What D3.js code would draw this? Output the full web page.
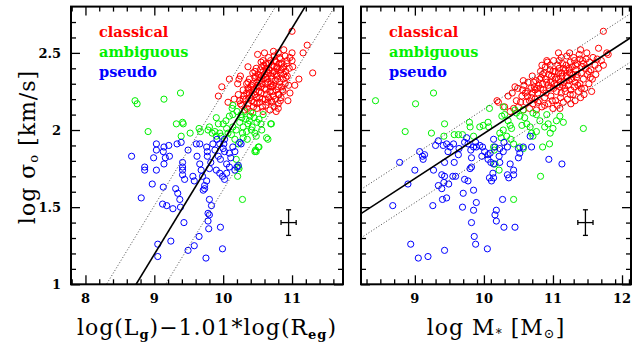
<!DOCTYPE html>
<html>
<head>
<meta charset="utf-8">
<script src="https://cdn.jsdelivr.net/npm/d3@7/dist/d3.min.js"></script>
<style>
  body { margin: 0; background: #fff; }
  svg { display: block; }
</style>
</head>
<body>
<svg id="chart" width="632" height="343"></svg>
<script>
// ---- categories and legend ----
const categories = ["classical", "ambiguous", "pseudo"];
const categoryColors = ["#ff0000", "#00f000", "#0000ff"];

// ---- tick labels ----
const yTickValues = [1, 1.5, 2, 2.5];
const xTickValuesLeft = [8, 9, 10, 11];
const xTickValuesRight = [9, 10, 11, 12];

// ---- fitted relations: y = y0 + slope * (x - x0), dotted at +/- scatter ----
const fitLeft = { x0: 8.735, y0: 1.0, slope: 0.733, scatter: 0.315 };
const fitRight = { x0: 8.22, y0: 1.458, slope: 0.292, scatter: 0.157 };

// ---- typical error bars [x, y, dx, dy] ----
const errLeft = [10.95, 1.40, 0.11, 0.083];
const errRight = [11.47, 1.40, 0.11, 0.083];

// ---- left panel: log(Lg) - 1.01 log(Reg) vs log sigma0 ----
const classicalLeft = [
  [10.31,2.13],[10.40,2.12],[10.49,2.14],[10.58,2.12],[10.68,2.13],[10.74,2.15],
  [10.27,2.16],[10.36,2.17],[10.44,2.15],[10.53,2.18],[10.62,2.16],[10.71,2.18],[10.80,2.17],
  [10.24,2.19],[10.33,2.20],[10.41,2.19],[10.48,2.21],[10.57,2.20],[10.66,2.21],[10.76,2.20],[10.84,2.21],
  [10.22,2.23],[10.30,2.22],[10.38,2.24],[10.46,2.23],[10.55,2.24],[10.63,2.23],[10.72,2.25],[10.81,2.23],[10.87,2.25],
  [10.29,2.26],[10.36,2.27],[10.44,2.26],[10.51,2.28],[10.60,2.27],[10.69,2.28],[10.77,2.26],[10.85,2.28],
  [10.34,2.30],[10.41,2.29],[10.49,2.31],[10.56,2.30],[10.65,2.31],[10.73,2.29],[10.82,2.31],[10.90,2.30],
  [10.38,2.33],[10.46,2.34],[10.53,2.32],[10.61,2.34],[10.70,2.33],[10.78,2.35],[10.87,2.33],[10.93,2.35],
  [10.43,2.37],[10.51,2.36],[10.58,2.38],[10.66,2.37],[10.74,2.38],[10.83,2.37],[10.91,2.38],
  [10.48,2.40],[10.56,2.41],[10.63,2.40],[10.71,2.42],[10.79,2.40],[10.88,2.41],[10.96,2.40],
  [10.55,2.44],[10.62,2.43],[10.69,2.45],[10.77,2.44],[10.85,2.43],[10.93,2.45],
  [10.66,2.47],[10.74,2.48],[10.82,2.47],[10.90,2.48],[10.97,2.47],
  [10.73,2.51],[10.80,2.50],[10.88,2.52],
  [10.35,2.14],[10.45,2.18],[10.52,2.25],[10.58,2.33],[10.67,2.39],[10.75,2.45],[10.29,2.20],
  [10.61,2.20],[10.68,2.25],[10.76,2.32],[10.84,2.39],[10.40,2.28],[10.47,2.35],[10.54,2.39],
  [10.62,2.30],[10.73,2.22],[10.80,2.28],[10.88,2.36],[10.92,2.43],[10.57,2.15],[10.65,2.18],
  [10.42,2.22],[10.50,2.29],[10.60,2.36],[10.70,2.35],[10.78,2.41],
  [10.39,2.21],[10.47,2.25],[10.55,2.28],[10.64,2.33],[10.72,2.37],[10.81,2.43],[10.34,2.24],
  [10.43,2.30],[10.52,2.34],[10.59,2.42],[10.69,2.30],[10.77,2.36],[10.86,2.40],[10.53,2.21],
  [10.62,2.26],[10.71,2.28],[10.79,2.33],[10.86,2.26],[10.58,2.45],[10.66,2.43],[10.46,2.38],
  [10.37,2.26],[10.49,2.17],[10.56,2.35],[10.63,2.38],[10.74,2.41],[10.83,2.46],[10.91,2.34],
  [10.80,2.23],[10.70,2.19],
  [11.00,2.64],[11.22,2.55],[11.16,2.50],[11.00,2.50],[11.00,2.45],[11.01,2.41],[11.30,2.37],
  [11.04,2.29],[10.94,2.19],[10.83,2.19],[10.80,2.14],[10.50,2.49],[10.60,2.50],[10.36,2.41],
  [10.23,2.33],[10.25,2.35],[10.36,2.31],[9.98,2.28],[9.93,2.22],[10.07,2.18],[10.77,2.12],
  [10.95,2.29],[11.10,2.33],[10.97,2.24],[10.09,2.33],[10.21,2.30],[10.25,2.17],[10.16,2.20]
];
const ambiguousLeft = [
  [8.72,2.19],[8.75,2.17],[9.14,2.20],[9.38,2.24],[8.91,1.99],[9.32,2.04],[9.41,2.05],[9.39,1.96],
  [9.52,1.98],[9.65,2.01],[9.67,1.99],[9.78,2.00],[9.80,2.02],[9.90,2.08],[9.93,2.04],[9.88,1.99],
  [9.90,1.96],[9.95,1.98],[9.97,1.96],[10.00,2.04],[10.05,2.01],[10.09,2.09],[10.14,2.10],[10.07,1.98],
  [10.12,1.97],[10.14,2.02],[10.19,2.00],[10.24,2.05],[10.26,2.10],[10.29,2.02],[10.34,1.99],[10.17,1.94],
  [10.22,1.91],[10.29,1.95],[10.36,2.04],[10.39,2.09],[10.43,2.11],[10.41,2.00],[10.46,1.98],[10.48,1.96],
  [10.49,2.05],[10.51,1.89],[10.47,1.87],[10.46,1.86],[10.55,2.04],[10.58,2.10],[10.63,1.95],[10.70,2.04],
  [10.13,2.14],[10.14,2.16],[10.19,1.81],[10.22,1.76],[10.23,1.75],[10.21,1.70],[10.28,1.55],[10.48,1.86],
  [10.52,1.89],[10.65,1.94],[10.69,2.04],[9.42,2.04],[10.33,2.07],[10.38,2.06],[10.27,2.08],[10.31,2.12],
  [10.20,2.12],[10.45,2.08],[10.52,2.07],[10.35,1.94],[10.42,2.02],[10.04,2.06],[9.84,1.98],[10.28,1.98],
  [10.56,2.00]
];
const pseudoLeft = [
  [8.67,1.83],[8.86,1.76],[8.86,1.74],[8.81,1.56],[8.97,1.65],[9.03,1.91],[9.03,1.87],[9.03,1.74],
  [8.99,1.82],[9.14,1.89],[9.13,1.86],[9.14,1.78],[9.16,1.82],[9.21,1.90],[9.22,1.83],[9.13,1.63],
  [9.12,1.52],[9.18,1.51],[9.27,1.49],[9.05,1.26],[9.05,1.18],[9.24,1.28],[9.31,1.62],[9.34,1.59],
  [9.37,1.55],[9.38,1.50],[9.41,1.79],[9.41,1.76],[9.41,1.74],[9.33,1.91],[9.39,1.92],[9.43,1.40],
  [9.49,1.22],[9.41,1.71],[9.44,1.68],[9.49,1.87],[9.56,1.70],[9.58,1.67],[9.61,1.91],[9.62,1.83],
  [9.66,1.78],[9.68,1.74],[9.70,1.70],[9.66,1.91],[9.76,1.89],[9.77,1.86],[9.77,1.83],[9.73,1.64],
  [9.73,1.62],[9.71,1.61],[9.65,1.31],[9.58,1.25],[9.75,1.17],[9.76,1.67],[9.80,1.75],[9.82,1.79],
  [9.80,1.55],[9.78,1.46],[9.80,1.45],[9.78,1.41],[9.79,1.36],[9.83,1.51],[9.96,1.37],[9.99,1.23],
  [9.85,1.91],[9.88,1.87],[9.91,1.94],[9.95,1.91],[9.93,1.83],[9.96,1.81],[9.90,1.74],[9.95,1.72],
  [9.99,1.70],[10.02,1.68],[10.05,1.72],[10.05,1.78],[10.09,1.85],[10.11,1.82],[10.14,1.89],[10.17,1.86],
  [10.20,1.76],[10.02,1.86],[10.00,1.88],[10.02,1.94],[10.01,1.91],[10.24,1.92],[10.26,1.91],[10.22,1.77],
  [10.17,1.74],[10.09,1.76]
];

// ---- right panel: log M* vs log sigma0 ----
const classicalRight = [
  [10.43,2.14],[10.47,2.19],[10.41,2.24],[10.50,2.15],[10.55,2.22],[10.49,2.27],[10.57,2.13],[10.61,2.18],
  [10.58,2.29],[10.63,2.25],[10.66,2.14],[10.69,2.21],[10.64,2.31],[10.71,2.17],[10.73,2.28],[10.70,2.35],
  [10.76,2.13],[10.78,2.24],[10.75,2.32],[10.80,2.19],[10.82,2.38],[10.79,2.29],[10.84,2.15],[10.86,2.26],
  [10.83,2.34],[10.88,2.21],[10.89,2.41],[10.91,2.31],[10.87,2.37],[10.93,2.17],[10.95,2.27],[10.92,2.44],
  [10.97,2.22],[10.98,2.35],[10.96,2.39],[11.00,2.14],[11.02,2.30],[11.01,2.45],[11.04,2.19],[11.05,2.25],
  [11.03,2.38],[11.07,2.42],[11.08,2.33],[11.06,2.16],[11.10,2.28],[11.11,2.21],[11.12,2.47],[11.13,2.37],
  [11.09,2.40],[11.15,2.18],[11.16,2.31],[11.14,2.43],[11.18,2.25],[11.19,2.35],[11.20,2.48],[11.21,2.20],
  [11.23,2.40],[11.22,2.29],[11.25,2.44],[11.26,2.17],[11.27,2.33],[11.24,2.37],[11.29,2.23],[11.30,2.47],
  [11.31,2.28],[11.33,2.39],[11.32,2.19],[11.35,2.43],[11.34,2.34],[11.37,2.25],[11.38,2.49],[11.39,2.30],
  [11.41,2.37],[11.40,2.21],[11.43,2.45],[11.44,2.33],[11.46,2.27],[11.47,2.40],[11.49,2.50],[11.50,2.36],
  [11.52,2.30],[11.53,2.44],[11.55,2.39],[11.57,2.33],[11.58,2.47],[11.61,2.42],[11.62,2.36],[11.64,2.46],
  [11.66,2.40],
  [10.74,2.20],[10.85,2.30],[10.99,2.19],[11.05,2.34],[11.17,2.27],[11.28,2.41],[10.68,2.27],[10.90,2.24],
  [11.12,2.24],[11.36,2.29],[11.45,2.23],[10.81,2.33],[10.94,2.36],[11.08,2.37],[11.19,2.42],[11.26,2.26],
  [10.60,2.24],[10.72,2.31],[10.53,2.18],[11.42,2.41],[11.54,2.34],[11.01,2.27],[10.88,2.16],[11.23,2.32],
  [11.35,2.36],[10.66,2.19],[10.77,2.27],[10.97,2.31],[11.14,2.29],[11.31,2.45],[11.48,2.46],[10.84,2.42],
  [10.70,2.24],[10.82,2.27],[10.93,2.29],[11.03,2.33],[11.13,2.35],[11.24,2.39],[11.33,2.42],[11.44,2.43],
  [10.78,2.18],[10.89,2.33],[11.00,2.38],[11.11,2.31],[11.21,2.34],[11.32,2.31],[11.41,2.27],[11.52,2.38],
  [10.63,2.22],[10.85,2.36],[10.96,2.42],[11.06,2.29],[11.18,2.39],[11.29,2.36],[11.39,2.46],[10.74,2.26],
  [11.15,2.40],[10.56,2.26],
  [11.73,2.64],[11.80,2.49],[11.70,2.45],[11.73,2.42],[11.56,2.25],[11.25,2.23],[10.91,2.45],
  [11.09,2.45],[11.24,2.50],[10.21,2.18],[10.35,2.22],[10.45,2.28],[10.57,2.32],[10.19,2.19],
  [11.08,2.50],[11.40,2.52],[11.66,2.53],[11.78,2.50],[10.30,2.15],[10.38,2.12],[11.10,2.14]
];
const ambiguousRight = [
  [8.43,2.19],[9.01,2.17],[9.27,2.24],[8.86,1.99],[9.24,1.98],[9.43,2.04],[9.42,1.96],[9.57,1.97],
  [9.63,1.97],[9.69,1.97],[9.79,2.05],[9.80,2.02],[9.85,1.96],[9.94,2.02],[9.99,2.03],[10.06,2.05],
  [10.07,2.02],[10.08,2.14],[10.14,1.89],[10.15,1.87],[10.16,1.78],[10.22,1.74],[10.23,1.98],[10.28,2.00],
  [10.25,1.95],[10.26,2.09],[10.30,2.10],[10.35,2.06],[10.38,2.03],[10.40,2.01],[10.33,1.96],[10.39,1.94],
  [10.43,1.91],[10.43,1.55],[10.47,2.11],[10.52,2.09],[10.57,2.13],[10.59,2.08],[10.55,2.03],[10.62,2.04],
  [10.67,2.02],[10.52,1.89],[10.57,1.88],[10.69,1.98],[10.71,1.96],[10.76,1.99],[10.71,2.11],[10.76,2.10],
  [10.81,2.06],[10.82,1.70],[10.88,2.02],[10.93,2.04],[10.96,1.98],[11.00,2.01],[11.05,2.06],[11.10,2.09],
  [11.15,2.05],[10.95,1.91],[11.44,2.01],[10.91,2.10],[10.45,2.13],[10.28,2.15],[10.85,1.89]
];
const pseudoRight = [
  [8.68,1.51],[8.78,1.79],[8.90,1.65],[9.00,1.74],[9.07,1.86],[9.11,1.83],[9.12,1.81],[9.14,1.84],
  [8.94,1.26],[9.05,1.17],[9.19,1.18],[9.43,1.22],[9.27,1.74],[9.26,1.51],[9.30,1.90],[9.34,1.93],
  [9.41,1.90],[9.46,1.91],[9.51,1.89],[9.39,1.71],[9.43,1.70],[9.55,1.70],[9.59,1.70],[9.34,1.64],
  [9.39,1.62],[9.42,1.66],[9.49,1.65],[9.40,1.55],[9.46,1.56],[9.48,1.86],[9.43,1.79],[9.57,1.79],
  [9.56,1.91],[9.70,1.59],[9.69,1.50],[9.72,1.68],[9.77,1.67],[9.80,1.75],[9.82,1.82],[9.82,1.76],
  [9.72,1.92],[9.75,1.95],[9.77,1.91],[9.81,1.87],[9.85,1.89],[9.89,1.89],[9.94,1.90],[9.98,1.89],
  [9.85,1.61],[9.89,1.53],[9.85,1.48],[9.82,1.40],[9.86,1.31],[9.88,1.26],[10.05,1.23],[10.06,1.84],
  [10.06,1.81],[10.09,1.85],[10.10,1.79],[10.14,1.78],[10.13,1.72],[10.14,1.69],[10.08,1.69],[10.11,1.67],
  [10.16,1.45],[10.18,1.48],[10.18,1.41],[10.29,1.37],[10.27,1.55],[10.23,1.88],[10.28,1.86],[10.29,1.92],
  [10.34,1.89],[10.34,1.71],[10.36,1.69],[10.43,1.71],[10.43,1.74],[10.45,1.37],[10.50,1.88],[10.52,1.85],
  [10.50,1.82],[10.57,1.89],[10.67,1.96],[10.69,1.89],[10.94,1.81],[11.13,1.78],[10.38,1.78],[10.22,1.83],
  [10.23,1.79],[10.16,1.89],[9.97,1.83],[10.01,1.86],[10.14,1.94],[9.88,1.92],[9.64,1.88],[9.63,1.84]
];

// ---- layout ----
const svg = d3.select("#chart");
const y = d3.scaleLinear().domain([1, 2.8]).range([284.3, 6.6]);
const serif = "'DejaVu Serif', 'Liberation Serif', serif";

const panels = [
  { id: "L", domain: [7.79, 11.74], range: [71, 343], xticks: xTickValuesLeft,
    minorFrom: 78, minorTo: 117, yLabels: true, fit: fitLeft, err: errLeft,
    series: [classicalLeft, ambiguousLeft, pseudoLeft] },
  { id: "R", domain: [8.22, 12.13], range: [361, 631], xticks: xTickValuesRight,
    minorFrom: 83, minorTo: 121, yLabels: false, fit: fitRight, err: errRight,
    series: [classicalRight, ambiguousRight, pseudoRight] }
];

panels.forEach(p => {
  const x = d3.scaleLinear().domain(p.domain).range(p.range);
  const top = y.range()[1], bottom = y.range()[0];
  const left = p.range[0], right = p.range[1];

  const clipId = "clip" + p.id;
  svg.append("clipPath").attr("id", clipId)
    .append("rect").attr("x", left).attr("y", top)
    .attr("width", right - left).attr("height", bottom - top);

  const plot = svg.append("g").attr("clip-path", `url(#${clipId})`);

  // scatter of each category
  p.series.forEach((pts, i) => {
    plot.append("g").selectAll("circle").data(pts).join("circle")
      .attr("cx", d => x(d[0])).attr("cy", d => y(d[1]))
      .attr("r", 3.1)
      .attr("fill", "none")
      .attr("stroke", categoryColors[i])
      .attr("stroke-width", 1);
  });

  // fitted relation and its scatter
  const f = p.fit;
  const lineAt = off => p.domain.map(xv => [xv, f.y0 + f.slope * (xv - f.x0) + off]);
  const lineGen = d3.line().x(d => x(d[0])).y(d => y(d[1]));
  [-f.scatter, f.scatter].forEach(off => {
    plot.append("path").attr("d", lineGen(lineAt(off)))
      .attr("fill", "none").attr("stroke", "#333")
      .attr("stroke-width", 0.9).attr("stroke-dasharray", "1,2");
  });
  plot.append("path").attr("d", lineGen(lineAt(0)))
    .attr("fill", "none").attr("stroke", "#000").attr("stroke-width", 1.6);

  // typical uncertainty
  const [ex, ey, edx, edy] = p.err;
  const eg = svg.append("g").attr("stroke", "#000").attr("stroke-width", 1.3);
  eg.append("line").attr("x1", x(ex - edx)).attr("x2", x(ex + edx)).attr("y1", y(ey)).attr("y2", y(ey));
  eg.append("line").attr("x1", x(ex)).attr("x2", x(ex)).attr("y1", y(ey - edy)).attr("y2", y(ey + edy));
  [ex - edx, ex + edx].forEach(v => eg.append("line")
    .attr("x1", x(v)).attr("x2", x(v)).attr("y1", y(ey) - 2.5).attr("y2", y(ey) + 2.5));
  [ey - edy, ey + edy].forEach(v => eg.append("line")
    .attr("x1", x(ex) - 2.5).attr("x2", x(ex) + 2.5).attr("y1", y(v)).attr("y2", y(v)));

  // legend
  categories.forEach((c, i) => {
    svg.append("text").attr("x", left + 28).attr("y", 37 + i * 20)
      .attr("fill", categoryColors[i])
      .style("font-family", serif).style("font-weight", "bold").style("font-size", "14.5px")
      .text(c);
  });

  // ticks on all four sides
  const xMinor = d3.range(p.minorFrom, p.minorTo + 1, 2).map(v => v / 10)
    .filter(v => !p.xticks.includes(v));
  const yMinor = d3.range(11, 28).map(v => v / 10).filter(v => !yTickValues.includes(v));
  const tickG = svg.append("g");
  const noLabel = a => a.tickFormat("").tickSizeOuter(0);
  tickG.append("g").attr("transform", `translate(0,${bottom})`).call(noLabel(d3.axisBottom(x).tickValues(p.xticks).tickSize(-9)));
  tickG.append("g").attr("transform", `translate(0,${bottom})`).call(noLabel(d3.axisBottom(x).tickValues(xMinor).tickSize(-5)));
  tickG.append("g").attr("transform", `translate(0,${top})`).call(noLabel(d3.axisTop(x).tickValues(p.xticks).tickSize(-9)));
  tickG.append("g").attr("transform", `translate(0,${top})`).call(noLabel(d3.axisTop(x).tickValues(xMinor).tickSize(-5)));
  tickG.append("g").attr("transform", `translate(${left},0)`).call(noLabel(d3.axisLeft(y).tickValues(yTickValues).tickSize(-9)));
  tickG.append("g").attr("transform", `translate(${left},0)`).call(noLabel(d3.axisLeft(y).tickValues(yMinor).tickSize(-5)));
  tickG.append("g").attr("transform", `translate(${right},0)`).call(noLabel(d3.axisRight(y).tickValues(yTickValues).tickSize(-9)));
  tickG.append("g").attr("transform", `translate(${right},0)`).call(noLabel(d3.axisRight(y).tickValues(yMinor).tickSize(-5)));
  tickG.selectAll(".domain").remove();
  tickG.selectAll(".tick line").attr("stroke", "#000").attr("stroke-width", 1.3);

  // frame
  svg.append("rect").attr("x", left).attr("y", top)
    .attr("width", right - left).attr("height", bottom - top)
    .attr("fill", "none").attr("stroke", "#000").attr("stroke-width", 2);

  // tick labels
  p.xticks.forEach(v => {
    svg.append("text").attr("x", x(v)).attr("y", 303)
      .attr("text-anchor", "middle")
      .style("font-family", serif).style("font-weight", "bold").style("font-size", "13px")
      .text(v);
  });
  if (p.yLabels) {
    yTickValues.forEach(v => {
      svg.append("text").attr("x", 61).attr("y", y(v) + 4.8)
        .attr("text-anchor", "end")
        .style("font-family", serif).style("font-weight", "bold").style("font-size", "13px")
        .text(v);
    });
  }
});

// axis titles
const titleStyle = t => t.style("font-family", serif).style("font-size", "22px")
  .style("letter-spacing", "1px").attr("fill", "#000");

const xt1 = svg.append("text").attr("x", 207).attr("y", 335).attr("text-anchor", "middle").call(titleStyle);
xt1.append("tspan").text("log(L");
xt1.append("tspan").attr("baseline-shift", "-30%").style("font-size", "13px").style("font-weight", "bold").text("g");
xt1.append("tspan").text(")\u22121.01*log(R");
xt1.append("tspan").attr("baseline-shift", "-30%").style("font-size", "13px").style("font-weight", "bold").text("eg");
xt1.append("tspan").text(")");

const xt2 = svg.append("text").attr("x", 496).attr("y", 335).attr("text-anchor", "middle").call(titleStyle);
xt2.append("tspan").text("log  M");
xt2.append("tspan").attr("baseline-shift", "-25%").style("font-size", "12px").text("*");
xt2.append("tspan").text(" [M");
xt2.append("tspan").attr("baseline-shift", "-25%").style("font-size", "13px").text("\u2299");
xt2.append("tspan").text("]");

const yt = svg.append("text").attr("transform", "translate(35,147) rotate(-90)")
  .attr("text-anchor", "middle").call(titleStyle);
yt.append("tspan").text("log \u03c3");
yt.append("tspan").attr("baseline-shift", "-25%").style("font-size", "13px").text("o");
yt.append("tspan").text(" [km/s]");
</script>
</body>
</html>
